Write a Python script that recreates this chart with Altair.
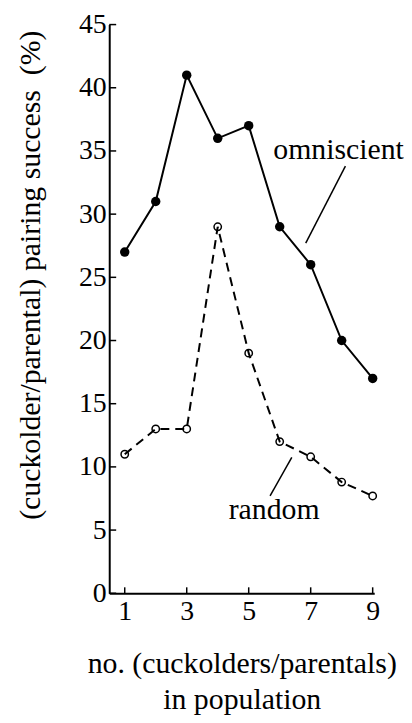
import altair as alt
import pandas as pd

# ---- data ----
x_vals = [1, 2, 3, 4, 5, 6, 7, 8, 9]
omniscient = [27, 31, 41, 36, 37, 29, 26, 20, 17]
random_vals = [11, 13, 13, 29, 19, 12, 10.8, 8.8, 7.7]

y_tick_vals = [0, 5, 10, 15, 20, 25, 30, 35, 40, 45]
x_tick_vals = [1, 3, 5, 7, 9]

x_title = ["no. (cuckolders/parentals)", "in population"]
y_title = "(cuckolder/parental) pairing success\u00a0\u00a0(%)"

label_names = ["omniscient", "random"]
label_x = [7.9, 5.82]
label_y = [34.4, 5.9]
leader_x = [8.12, 6.39]
leader_y = [33.8, 10.76]
leader_x2 = [6.84, 5.69]
leader_y2 = [27.7, 7.7]

FONT = "'Liberation Serif', 'Times New Roman', Times, 'DejaVu Serif', serif"
W, H = 267, 573

omni_df = pd.DataFrame({"x": x_vals, "y": omniscient})
rand_df = pd.DataFrame({"x": x_vals, "y": random_vals})
ytick_df = pd.DataFrame({"y": y_tick_vals})
xtick_df = pd.DataFrame({"x": x_tick_vals})
lab_df = pd.DataFrame({"x": label_x, "y": label_y, "t": label_names})
lead_df = pd.DataFrame({"x": leader_x, "y": leader_y, "x2": leader_x2, "y2": leader_y2})

xs = alt.Scale(domain=[0.5, 9.05], nice=False, zero=False)
ys = alt.Scale(domain=[0, 45], nice=False)

xaxis = alt.Axis(
    values=x_tick_vals, ticks=False, grid=False, labelFont=FONT, labelFontSize=28,
    labelColor="black", labelPadding=4, domainColor="black", domainWidth=2,
    title=x_title, titleFont=FONT, titleFontSize=30, titleFontWeight="normal",
    titleColor="black", titleLineHeight=36, titleY=56, titleBaseline="top",
    labelFlush=False,
)
yaxis = alt.Axis(
    values=y_tick_vals, ticks=False, grid=False, labelFont=FONT, labelFontSize=28,
    labelColor="black", labelPadding=3, domainColor="black", domainWidth=2,
    title=y_title, titleFont=FONT, titleFontSize=30, titleFontWeight="normal",
    titleColor="black", titleAngle=270, titleX=-70, titleY=252,
    titleBaseline="alphabetic", titleAlign="center", labelFlush=False,
)

X = alt.X("x:Q", scale=xs, axis=xaxis)
Y = alt.Y("y:Q", scale=ys, axis=yaxis)

omni_line = alt.Chart(omni_df).mark_line(color="black", strokeWidth=2).encode(x=X, y=Y)
omni_pts = alt.Chart(omni_df).mark_point(filled=True, size=90, color="black", opacity=1).encode(x=X, y=Y)
rand_line = alt.Chart(rand_df).mark_line(color="black", strokeWidth=2, strokeDash=[9, 6]).encode(x=X, y=Y)
rand_pts = alt.Chart(rand_df).mark_point(filled=False, size=55, color="black", strokeWidth=1.5, opacity=1).encode(x=X, y=Y)

ytick = alt.Chart(ytick_df).mark_rule(color="black", strokeWidth=1.5).encode(
    y=Y, x=alt.value(0), x2=alt.value(7)
)
xtick = alt.Chart(xtick_df).mark_rule(color="black", strokeWidth=1.5).encode(
    x=X, y=alt.value(H), y2=alt.value(H - 6)
)
leaders = alt.Chart(lead_df).mark_rule(color="black", strokeWidth=1.5).encode(
    x=X, y=Y, x2="x2:Q", y2="y2:Q"
)
labels = alt.Chart(lab_df).mark_text(
    font=FONT, fontSize=30, color="black", align="center", baseline="alphabetic", clip=False
).encode(x=X, y=Y, text="t:N")

chart = alt.layer(
    rand_line, rand_pts, omni_line, omni_pts, ytick, xtick, leaders, labels
).properties(
    width=W, height=H,
    autosize=alt.AutoSizeParams(type="none"),
    padding={"left": 102, "top": 14, "right": 30, "bottom": 126},
    background="white",
).configure_view(stroke=None)

chart.save("out.html", embed_options={"renderer": "svg", "actions": False})
